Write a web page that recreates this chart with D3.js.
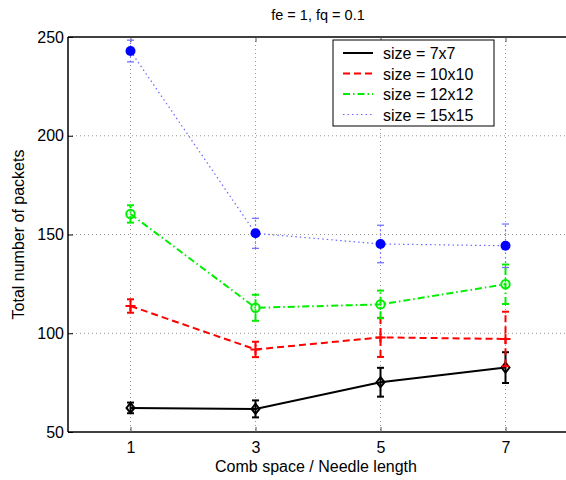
<!DOCTYPE html>
<html lang="en">
<head>
  <meta charset="UTF-8">
  <title>Total number of packets</title>
  <script src="https://d3js.org/d3.v7.min.js"></script>
  <style>
    body { margin: 0; background: #fff; font-family: "Liberation Sans", Arial, sans-serif; }
    svg text { font-family: "Liberation Sans", Arial, sans-serif; fill: #000; }
    .grid line { stroke: #999; stroke-width: 1; stroke-dasharray: 1,3; }
  </style>
</head>
<body>
  <svg id="chart" width="566" height="480"></svg>
  <script>
    // data
    const xValues = [1, 3, 5, 7];
    const seriesNames = ["size = 7x7", "size = 10x10", "size = 12x12", "size = 15x15"];
    const mean7 = [62.2, 61.7, 75.2, 82.6];
    const err7 = [2.7, 4.3, 7.3, 7.8];
    const mean10 = [113.8, 91.8, 97.9, 97.1];
    const err10 = [3.4, 3.9, 9.9, 13.8];
    const mean12 = [160.4, 112.9, 114.6, 124.8];
    const err12 = [4.4, 6.6, 7.0, 10.0];
    const mean15 = [242.9, 150.6, 145.2, 144.3];
    const err15 = [5.5, 7.6, 9.5, 11.0];
    const xTicks = [1, 3, 5, 7];
    const yTicks = [50, 100, 150, 200, 250];

    const styles = [
      {color: "#000", width: 2, dash: null, marker: "diamond"},
      {color: "#ff0000", width: 2, dash: "7,4", marker: "plus"},
      {color: "#00ee00", width: 2, dash: "7,3,1.5,3", marker: "circle"},
      {color: "#6a6aff", width: 1.2, dash: "1.5,3", marker: "dot"}
    ];
    const allMeans = [mean7, mean10, mean12, mean15];
    const allErrs = [err7, err10, err12, err15];

    const margin = {left: 68, top: 37, right: 568, bottom: 432};
    const svg = d3.select("#chart");

    const x = d3.scaleLinear().domain([0, 8]).range([margin.left, margin.right]);
    const y = d3.scaleLinear().domain([50, 250]).range([margin.bottom, margin.top]);

    // grid
    const grid = svg.append("g").attr("class", "grid");
    grid.selectAll(".gx").data(xTicks).join("line")
      .attr("x1", d => x(d)).attr("x2", d => x(d))
      .attr("y1", margin.top).attr("y2", margin.bottom);
    grid.selectAll(".gy").data(yTicks.slice(1, -1)).join("line")
      .attr("x1", margin.left).attr("x2", margin.right)
      .attr("y1", d => y(d)).attr("y2", d => y(d));

    // axes
    const ax = svg.append("g");
    ax.append("line").attr("x1", margin.left).attr("x2", margin.right)
      .attr("y1", margin.bottom).attr("y2", margin.bottom).attr("stroke", "#000").attr("stroke-width", 1.5);
    ax.append("line").attr("x1", margin.left).attr("x2", margin.right)
      .attr("y1", margin.top).attr("y2", margin.top).attr("stroke", "#000").attr("stroke-width", 1.5);
    ax.append("line").attr("x1", margin.left).attr("x2", margin.left)
      .attr("y1", margin.top).attr("y2", margin.bottom).attr("stroke", "#000").attr("stroke-width", 1.5);

    const xAxis = d3.axisBottom(x).tickValues(xTicks).tickSize(-5).tickPadding(10);
    svg.append("g").attr("transform", `translate(0,${margin.bottom})`).call(xAxis)
      .call(g => g.select(".domain").remove())
      .call(g => g.selectAll("text").attr("font-size", 16).attr("font-family", "Liberation Sans, Arial, sans-serif"))
      .call(g => g.selectAll("line").attr("stroke", "#555"));
    svg.append("g").attr("transform", `translate(0,${margin.top})`)
      .call(d3.axisTop(x).tickValues(xTicks).tickSize(-5).tickFormat(""))
      .call(g => g.select(".domain").remove())
      .call(g => g.selectAll("line").attr("stroke", "#555"));

    const yAxis = d3.axisLeft(y).tickValues(yTicks).tickSize(-5).tickPadding(4);
    svg.append("g").attr("transform", `translate(${margin.left},0)`).call(yAxis)
      .call(g => g.select(".domain").remove())
      .call(g => g.selectAll("text").attr("font-size", 16).attr("font-family", "Liberation Sans, Arial, sans-serif"))
      .call(g => g.selectAll("line").attr("stroke", "#000"));

    // titles
    svg.append("text").attr("x", (margin.left + margin.right) / 2).attr("y", 20)
      .attr("text-anchor", "middle").attr("font-size", 14.5).text("fe = 1, fq = 0.1");
    svg.append("text").attr("x", (margin.left + margin.right) / 2 - 2).attr("y", 472)
      .attr("text-anchor", "middle").attr("font-size", 16).text("Comb space / Needle length");
    svg.append("text").attr("transform", `translate(24,${(margin.top + margin.bottom) / 2}) rotate(-90)`)
      .attr("text-anchor", "middle").attr("font-size", 16).text("Total number of packets");

    // series
    const line = d3.line().x(d => x(d[0])).y(d => y(d[1]));
    allMeans.forEach((means, si) => {
      const st = styles[si];
      const pts = xValues.map((xv, i) => [xv, means[i], allErrs[si][i]]);
      const g = svg.append("g");
      // error bars
      pts.forEach(p => {
        const cx = x(p[0]), y0 = y(p[1] - p[2]), y1 = y(p[1] + p[2]);
        g.append("line").attr("x1", cx).attr("x2", cx).attr("y1", y0).attr("y2", y1)
          .attr("stroke", st.color).attr("stroke-width", st.width)
          .attr("stroke-dasharray", st.dash);
        [y0, y1].forEach(yy => g.append("line")
          .attr("x1", cx - 3.5).attr("x2", cx + 3.5).attr("y1", yy).attr("y2", yy)
          .attr("stroke", st.color).attr("stroke-width", st.width));
      });
      g.append("path").attr("d", line(pts)).attr("fill", "none")
        .attr("stroke", st.color).attr("stroke-width", st.width)
        .attr("stroke-dasharray", st.dash);
      // markers
      pts.forEach(p => {
        const cx = x(p[0]), cy = y(p[1]);
        if (st.marker === "diamond") {
          g.append("path").attr("d", `M${cx},${cy - 5}L${cx + 4},${cy}L${cx},${cy + 5}L${cx - 4},${cy}Z`)
            .attr("fill", "none").attr("stroke", "#000").attr("stroke-width", 2);
        } else if (st.marker === "plus") {
          g.append("path").attr("d", `M${cx - 5},${cy}H${cx + 5}M${cx},${cy - 5}V${cy + 5}`)
            .attr("stroke", st.color).attr("stroke-width", 2);
        } else if (st.marker === "circle") {
          g.append("circle").attr("cx", cx).attr("cy", cy).attr("r", 4.2)
            .attr("fill", "none").attr("stroke", st.color).attr("stroke-width", 2);
        } else {
          g.append("circle").attr("cx", cx).attr("cy", cy).attr("r", 5)
            .attr("fill", "#0000ff");
        }
      });
    });

    // legend
    const lg = svg.append("g").attr("transform", "translate(333,40)");
    lg.append("rect").attr("width", 161).attr("height", 86)
      .attr("fill", "#fff").attr("stroke", "#000").attr("stroke-width", 1);
    seriesNames.forEach((name, i) => {
      const st = styles[i];
      const yy = 13 + i * 20.5;
      lg.append("line").attr("x1", 10).attr("x2", 40).attr("y1", yy).attr("y2", yy)
        .attr("stroke", st.color).attr("stroke-width", st.width)
        .attr("stroke-dasharray", st.dash);
      lg.append("text").attr("x", 50).attr("y", yy + 6).attr("font-size", 16).text(name);
    });
  </script>
</body>
</html>
